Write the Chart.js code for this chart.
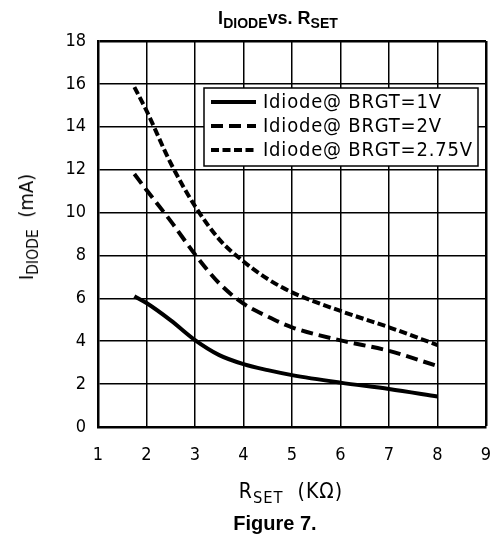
<!DOCTYPE html>
<html>
<head>
<meta charset="utf-8">
<script src="https://cdn.jsdelivr.net/npm/chart.js@4/dist/chart.umd.min.js"></script>
<style>
  html, body { margin: 0; padding: 0; background: #fff; }
  #wrap { position: relative; width: 490px; height: 537px; }
  canvas { position: absolute; left: 0; top: 0; }
  .lbl { position: absolute; white-space: nowrap; color: #000; }
  .thin { font-family: "DejaVu Sans Condensed", "Liberation Sans Narrow", sans-serif; font-weight: 300; }
  .bold { font-family: "Liberation Sans", Arial, sans-serif; font-weight: bold; }
  sub { font-size: 0.78em; vertical-align: -0.3em; line-height: 0; }
</style>
</head>
<body>
<div id="wrap">
  <canvas id="c" width="490" height="537"></canvas>
  <div class="lbl bold" id="title" style="left:0;width:556px;top:8px;font-size:18px;text-align:center;">I<sub>DIODE</sub>vs. R<sub>SET</sub></div>
  <div class="lbl thin" id="xtitle" style="left:0;width:582px;top:479px;font-size:21px;letter-spacing:1px;text-align:center;">R<sub>SET</sub>&nbsp;&nbsp;(KΩ)</div>
  <div class="lbl bold" id="caption" style="left:0;width:550px;top:512px;font-size:20px;text-align:center;">Figure 7.</div>
  <div class="lbl thin" id="ytitle" style="left:26px;top:227px;font-size:20px;transform:translate(-50%,-50%) rotate(-90deg);">I<sub>DIODE</sub>&nbsp;&nbsp;(mA)</div>
</div>
<script>
// ---- data ----
const rsetK = [1.75, 2, 2.5, 3, 3.5, 4, 4.5, 5, 6, 7, 8];
const idiode1V = [6.1, 5.78, 4.97, 4.05, 3.35, 2.93, 2.65, 2.42, 2.07, 1.77, 1.42];
const idiode2V = [11.8, 11.05, 9.6, 8.05, 6.7, 5.75, 5.15, 4.65, 4.04, 3.55, 2.84];
const idiode275V = [15.85, 14.75, 12.3, 10.3, 8.75, 7.72, 6.9, 6.28, 5.41, 4.65, 3.82];
const seriesLabels = ["Idiode@ BRGT=1V", "Idiode@ BRGT=2V", "Idiode@ BRGT=2.75V"];
const xTicks = [1, 2, 3, 4, 5, 6, 7, 8, 9];
const yTicks = [0, 2, 4, 6, 8, 10, 12, 14, 16, 18];

const toPts = ys => rsetK.map((x, i) => ({ x: x, y: ys[i] }));
const tickFont = { family: "'DejaVu Sans Condensed', 'Liberation Sans Narrow', sans-serif", size: 18, weight: '300' };

const legendInside = {
  id: 'legendInside',
  afterDatasetsDraw(chart) {
    const ctx = chart.ctx;
    const bx = 204, by = 88, bw = 274, bh = 78;
    ctx.save();
    ctx.fillStyle = '#fff';
    ctx.fillRect(bx, by, bw, bh);
    ctx.lineWidth = 1.5;
    ctx.strokeStyle = '#000';
    ctx.strokeRect(bx, by, bw, bh);
    const rows = [102, 126, 150];
    chart.data.datasets.forEach((ds, i) => {
      const y = rows[i];
      ctx.beginPath();
      ctx.lineWidth = ds.borderWidth;
      ctx.setLineDash(ds.borderDash || []);
      ctx.lineCap = 'butt';
      ctx.moveTo(211, y);
      ctx.lineTo(256, y);
      ctx.stroke();
      ctx.setLineDash([]);
      ctx.fillStyle = '#000';
      ctx.font = "300 20px 'DejaVu Sans Condensed', 'Liberation Sans Narrow', sans-serif";
      try { ctx.letterSpacing = '0.8px'; } catch (e) {}
      ctx.textBaseline = 'middle';
      ctx.textAlign = 'left';
      ctx.fillText(ds.label, 263, y + 1);
      try { ctx.letterSpacing = '0px'; } catch (e) {}
    });
    ctx.restore();
  }
};

new Chart(document.getElementById('c'), {
  type: 'line',
  data: {
    datasets: [
      { label: seriesLabels[0], data: toPts(idiode1V), borderColor: '#000', borderWidth: 4, borderDash: [], pointRadius: 0, cubicInterpolationMode: 'monotone', fill: false },
      { label: seriesLabels[1], data: toPts(idiode2V), borderColor: '#000', borderWidth: 4, borderDash: [12, 6], pointRadius: 0, cubicInterpolationMode: 'monotone', fill: false },
      { label: seriesLabels[2], data: toPts(idiode275V), borderColor: '#000', borderWidth: 4, borderDash: [8, 3.5], pointRadius: 0, cubicInterpolationMode: 'monotone', fill: false }
    ]
  },
  options: {
    responsive: false,
    animation: false,
    devicePixelRatio: 1,
    layout: { padding: { left: 0, top: 41, right: 4, bottom: 0 } },
    plugins: { legend: { display: false }, tooltip: { enabled: false }, title: { display: false } },
    scales: {
      x: {
        type: 'linear', min: 1, max: 9,
        afterBuildTicks: s => { s.ticks = xTicks.map(v => ({ value: v })); },
        afterFit: s => { s.height = 110; s.paddingLeft = 0; s.paddingRight = 0; },
        ticks: { color: '#000', font: tickFont, padding: 18, maxRotation: 0, autoSkip: false },
        grid: { color: '#000', drawTicks: false, lineWidth: c => (c.tick && c.tick.value === 9 ? 2.5 : 1.5) },
        border: { display: true, color: '#000', width: 2.5 }
      },
      y: {
        type: 'linear', min: 0, max: 18,
        afterBuildTicks: s => { s.ticks = yTicks.map(v => ({ value: v })); },
        afterFit: s => { s.width = 98; s.paddingTop = 0; s.paddingBottom = 0; },
        ticks: { color: '#000', font: tickFont, padding: 12, autoSkip: false },
        grid: { color: '#000', drawTicks: false, lineWidth: c => (c.tick && c.tick.value === 18 ? 2.5 : 1.5) },
        border: { display: true, color: '#000', width: 2.5 }
      }
    }
  },
  plugins: [legendInside]
});
</script>
</body>
</html>
